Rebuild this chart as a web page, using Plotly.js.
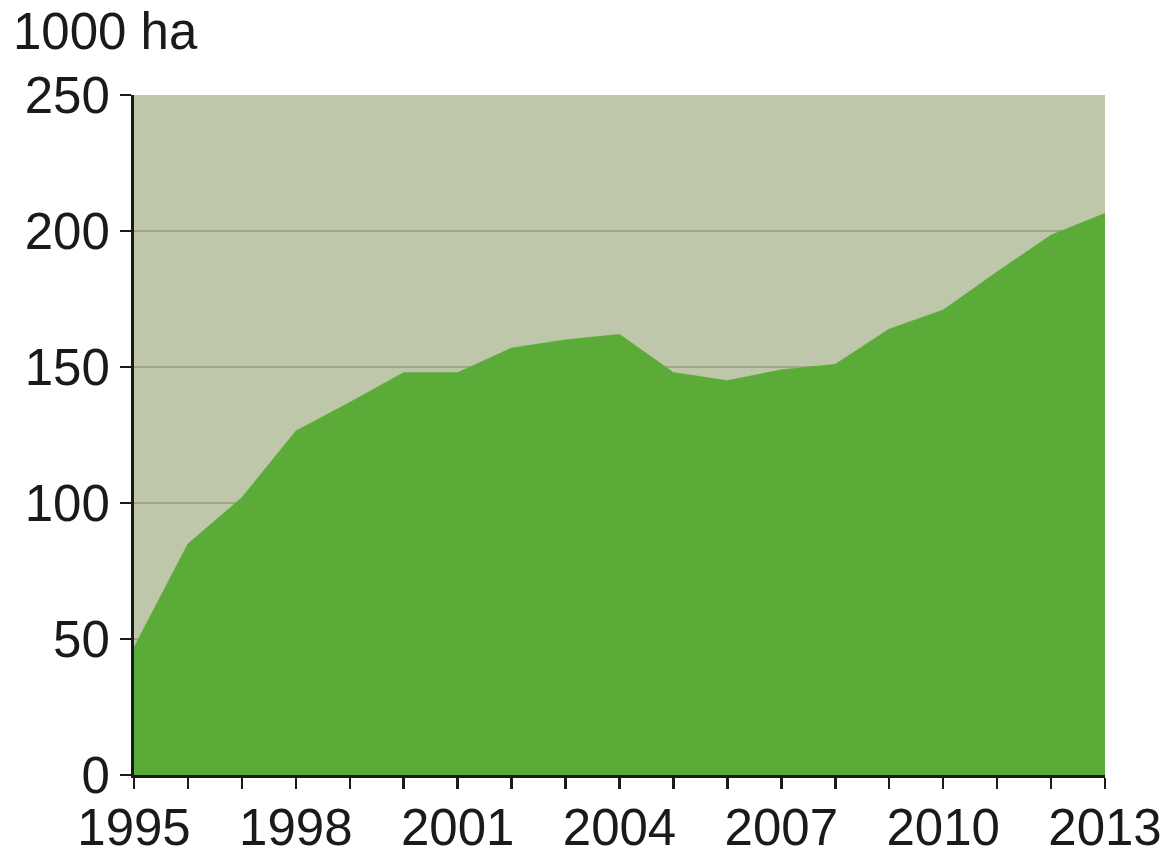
<!DOCTYPE html>
<html>
<head>
<meta charset="utf-8">
<script src="https://cdn.plot.ly/plotly-3.0.1.min.js"></script>
<style>html,body{margin:0;padding:0;background:#fff;}#chart{width:1173px;height:852px;}</style>
</head>
<body>
<div id="chart"></div>
<script>
const years = [1995,1996,1997,1998,1999,2000,2001,2002,2003,2004,2005,2006,2007,2008,2009,2010,2011,2012,2013];
const areaThousandHa = [47,85,102,126.5,137,148,148,157,160,162,148,145,149,151,164,171,185,198.5,206.5];
const yTickVals = [0,50,100,150,200,250];
const xTickVals = [1995,1998,2001,2004,2007,2010,2013];
const unitLabel = "1000 ha";

const fontFam = '"Liberation Sans", Arial, sans-serif';
const fs = 51;

const trace = {
  x: years,
  y: areaThousandHa,
  type: 'scatter',
  mode: 'lines',
  fill: 'tozeroy',
  fillcolor: '#5aab38',
  line: {color: '#5aab38', width: 0.5},
  hoverinfo: 'skip'
};

const layout = {
  width: 1173,
  height: 852,
  margin: {l: 134, r: 68, t: 95, b: 77, pad: 0},
  paper_bgcolor: '#ffffff',
  plot_bgcolor: '#bec7a9',
  showlegend: false,
  font: {family: fontFam, size: fs, color: '#1a1a1a'},
  xaxis: {
    range: [1995, 2013],
    tickmode: 'array',
    tickvals: xTickVals,
    ticktext: xTickVals.map(String),
    ticks: 'outside',
    ticklen: 11,
    tickwidth: 2.5,
    tickcolor: '#1a1a1a',
    showline: true,
    linecolor: '#1a1a1a',
    linewidth: 3,
    showgrid: false,
    zeroline: false,
    ticklabelstandoff: -5,
    tickfont: {family: fontFam, size: fs, color: '#1a1a1a'},
    minor: {dtick: 1, tick0: 1995, ticks: 'outside', ticklen: 11, tickwidth: 2.5, tickcolor: '#1a1a1a', showgrid: false}
  },
  yaxis: {
    range: [0, 250],
    tickmode: 'array',
    tickvals: yTickVals,
    ticks: 'outside',
    ticklen: 11,
    tickwidth: 2.5,
    tickcolor: '#1a1a1a',
    showline: true,
    linecolor: '#1a1a1a',
    linewidth: 3,
    showgrid: true,
    gridcolor: '#a2a887',
    gridwidth: 1.5,
    zeroline: false,
    ticklabelstandoff: 0,
    tickfont: {family: fontFam, size: fs, color: '#1a1a1a'}
  },
  annotations: [{
    text: unitLabel,
    xref: 'paper', yref: 'paper',
    x: (11 - 134) / 971, y: 1 + (95 - 62) / 680,
    xanchor: 'left', yanchor: 'bottom',
    showarrow: false,
    font: {family: fontFam, size: fs, color: '#1a1a1a'}
  }]
};

Plotly.newPlot('chart', [trace], layout, {displayModeBar: false, staticPlot: true});
</script>
</body>
</html>
